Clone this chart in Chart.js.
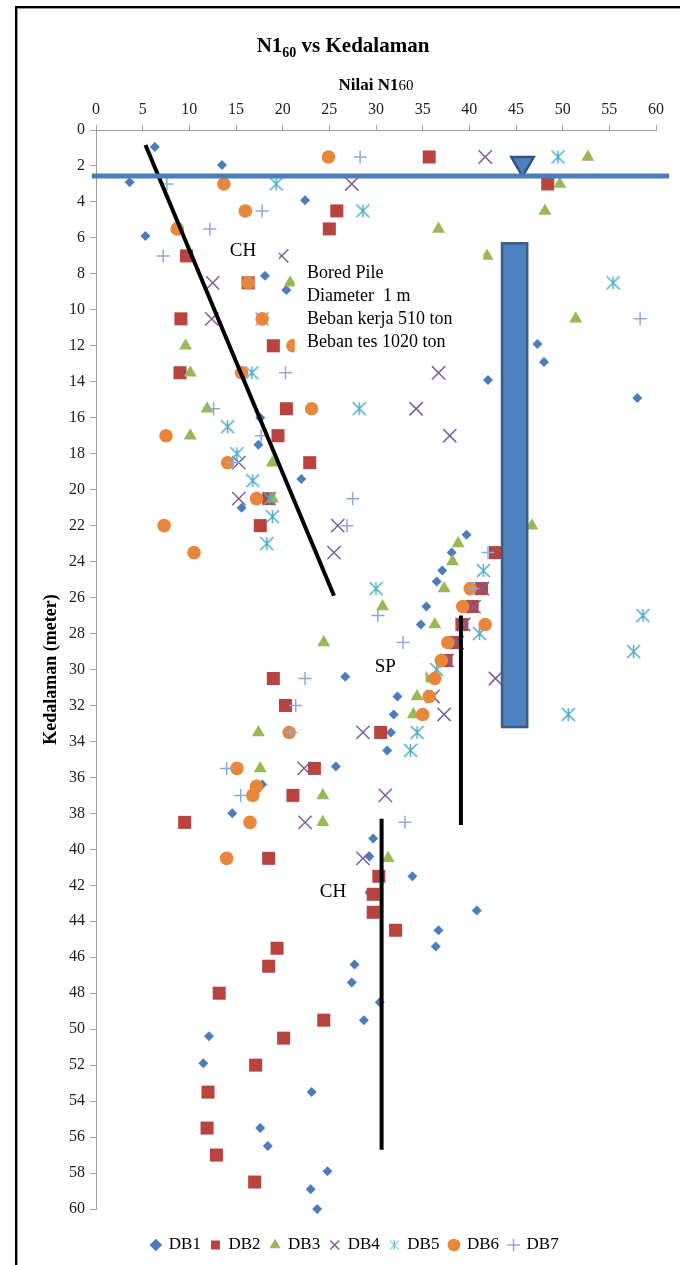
<!DOCTYPE html>
<html>
<head>
<meta charset="utf-8">
<title>N1 60 vs Kedalaman</title>
<script src="https://cdn.jsdelivr.net/npm/chart.js@4.4.1/dist/chart.umd.min.js"></script>
<style>
  body { margin: 0; background: #fff; }
  #wrap { position: relative; width: 680px; height: 1265px; overflow: hidden; }
  #frame { position: absolute; left: 15px; top: 6px; width: 700px; height: 1300px;
           border-left: 2px solid #000; border-top: 2px solid #000; box-shadow: inset 1px 1px 0 #9a9a9a; }
</style>
</head>
<body>
<div id="wrap">
  <canvas id="chart" width="680" height="1265"></canvas>
  <div id="frame"></div>
</div>
<script>
// [N1-60, depth (m)]
const db1 = [[6.3,0.95],[13.5,1.95],[3.6,2.9],[22.4,3.9],[5.3,5.9],[18.1,8.1],[20.4,8.9],[47.3,11.9],[48.0,12.9],
  [42.0,13.9],[58.0,14.9],[17.6,16.0],[17.4,17.5],[22.0,19.4],[15.6,21.0],[39.7,22.5],[38.1,23.5],[37.1,24.5],
  [36.5,25.1],[35.4,26.5],[34.8,27.5],[26.7,30.4],[32.3,31.5],[31.9,32.5],[31.6,33.5],[31.2,34.5],[25.7,35.4],
  [17.8,36.4],[14.6,38.0],[29.7,39.4],[29.3,40.4],[33.9,41.5],[29.3,42.4],[40.8,43.4],[36.7,44.5],[36.4,45.4],
  [27.7,46.4],[27.4,47.4],[30.4,48.5],[28.7,49.5],[12.1,50.4],[11.5,51.9],[23.1,53.5],[17.6,55.5],[18.4,56.5],
  [24.8,57.9],[23.0,58.9],[23.7,60.0]];
const db2 = [[35.7,1.5],[48.4,3.0],[25.8,4.5],[25.0,5.5],[9.7,7.0],[16.3,8.5],[9.1,10.5],[19.0,12.0],[9.0,13.5],
  [20.4,15.5],[19.5,17.0],[22.9,18.5],[18.5,20.5],[17.6,22.0],[42.8,23.5],[41.3,25.5],[40.3,26.5],[39.2,27.5],
  [38.3,28.5],[37.5,29.5],[19.0,30.5],[20.3,32.0],[30.5,33.5],[23.4,35.5],[21.1,37.0],[9.5,38.5],[18.5,40.5],
  [30.3,41.5],[29.7,42.5],[29.7,43.5],[32.1,44.5],[19.4,45.5],[18.5,46.5],[13.2,48.0],[24.4,49.5],[20.1,50.5],
  [17.1,52.0],[12.0,53.5],[11.9,55.5],[12.9,57.0],[17.0,58.5]];
const db3 = [[52.7,1.5],[49.7,3.0],[48.1,4.5],[36.7,5.5],[41.9,7.0],[20.8,8.5],[51.4,10.5],[9.6,12.0],[10.1,13.5],
  [11.9,15.5],[10.1,17.0],[18.9,18.5],[18.9,20.5],[46.7,22.0],[38.8,23.0],[38.2,24.0],[37.3,25.5],[30.7,26.5],
  [36.3,27.5],[24.4,28.5],[35.4,30.5],[34.4,31.5],[34.0,32.5],[17.4,33.5],[17.6,35.5],[24.3,37.0],[24.3,38.5],
  [31.3,40.5]];
const db4 = [[41.7,1.5],[27.4,3.0],[19.9,7.0],[12.5,8.5],[12.4,10.5],[36.7,13.5],[34.3,15.5],[37.9,17.0],
  [15.3,18.5],[15.3,20.5],[25.9,22.0],[25.5,23.5],[41.4,25.5],[40.5,26.5],[39.4,27.5],[38.7,28.5],[37.6,29.5],
  [42.8,30.5],[36.1,31.5],[37.3,32.5],[28.6,33.5],[22.3,35.5],[31.0,37.0],[22.4,38.5],[28.6,40.5]];
const db5 = [[49.5,1.5],[19.3,3.0],[28.6,4.5],[55.4,8.5],[17.8,10.5],[16.7,13.5],[28.2,15.5],[14.1,16.5],
  [15.1,18.0],[16.8,19.5],[18.6,20.5],[18.9,21.5],[18.3,23.0],[41.5,24.5],[30.0,25.5],[58.6,27.0],[41.1,28.0],
  [57.6,29.0],[36.5,30.0],[50.6,32.5],[34.4,33.5],[33.7,34.5]];
const db6 = [[24.9,1.5],[13.7,3.0],[16.0,4.5],[8.7,5.5],[16.3,8.5],[17.8,10.5],[21.1,12.0],[15.6,13.5],[23.1,15.5],
  [7.5,17.0],[14.1,18.5],[17.2,20.5],[7.3,22.0],[10.5,23.5],[40.1,25.5],[39.3,26.5],[41.7,27.5],[37.7,28.5],
  [37.0,29.5],[36.3,30.5],[35.7,31.5],[35.0,32.5],[20.7,33.5],[15.1,35.5],[17.2,36.5],[16.8,37.0],[16.5,38.5],
  [14.0,40.5]];
const db7 = [[28.3,1.5],[7.6,3.0],[17.8,4.5],[12.2,5.5],[7.2,7.0],[58.3,10.5],[20.3,13.5],[12.6,15.5],[17.7,17.0],
  [14.7,18.5],[27.5,20.5],[26.9,22.0],[42.0,23.5],[40.4,25.5],[30.2,27.0],[32.9,28.5],[22.4,30.5],[21.4,32.0],
  [20.9,33.5],[14.0,35.5],[15.5,37.0],[33.1,38.5]];

const seriesNames = ['DB1', 'DB2', 'DB3', 'DB4', 'DB5', 'DB6', 'DB7'];
const xTicks = [0, 5, 10, 15, 20, 25, 30, 35, 40, 45, 50, 55, 60];
const depthTicks = [0, 60, 2];   // min, max, step

// annotations, in chart units
const waterLine = [[-0.45, 2.56], [61.4, 2.56]];
const waterMark = [[45.7, 1.86]];
const chLineTop = [[5.3, 0.83], [25.5, 25.9]];
const spLine = [[39.1, 27.0], [39.1, 38.65]];
const chLineLow = [[30.6, 38.3], [30.6, 56.7]];
const pileN = [43.5, 46.2];
const pileDepth = [6.3, 33.2];
const labelCH = ['CH', 15.75, 6.73, [13.5, 19.6, 5.6, 7.85]];
const labelSP = ['SP', 31.0, 29.87, [28.1, 35.3, 29.0, 30.8]];
const labelCH2 = ['CH', 25.4, 42.4, [23.3, 27.5, 41.5, 43.3]];
const pileText = ['Bored Pile', 'Diameter  1 m', 'Beban kerja 510 ton', 'Beban tes 1020 ton'];
const pileTextAt = [22.6, 7.95, 1.28];          // left N, first line depth, line step
const pileTextBox = [21.3, 41.5, 6.55, 12.7];

const serif = "'Liberation Serif', 'Times New Roman', serif";
const colors = ['#4a7ebb', '#b8433f', '#98b954', '#7d5fa0', '#4bacc6', '#e6873c', '#8ea9db'];

function asterisk(h, color, lw) {
  const c = document.createElement('canvas');
  c.width = c.height = 2 * h + 2;
  const g = c.getContext('2d');
  const m = h + 1;
  g.strokeStyle = color;
  g.lineWidth = lw;
  g.beginPath();
  g.moveTo(m, m - h); g.lineTo(m, m + h);
  g.moveTo(m - h, m - h); g.lineTo(m + h, m + h);
  g.moveTo(m + h, m - h); g.lineTo(m - h, m + h);
  g.stroke();
  return c;
}
const starBig = asterisk(6.5, colors[4], 1.5);
const starSmall = asterisk(4.5, colors[4], 1);

const styles = ['rectRot', 'rect', 'triangle', 'crossRot', starBig, 'circle', 'cross'];
const radii = [5, 9.2, 7.5, 9.4, 7, 6.8, 6.5];
const toXY = pts => pts.map(p => ({ x: p[0], y: p[1] }));

const pointSets = [db1, db2, db3, db4, db5, db6, db7].map((pts, i) => ({
  label: seriesNames[i],
  data: toXY(pts),
  pointStyle: styles[i],
  pointRadius: radii[i],
  pointHoverRadius: radii[i],
  backgroundColor: colors[i],
  borderColor: colors[i],
  borderWidth: (i === 3 || i === 4 || i === 6) ? 1.5 : 0,
  clip: false,
  order: 10 - i
}));

function lineSet(pts, color, width) {
  return { data: toXY(pts), showLine: true, pointRadius: 0, borderColor: color,
           borderWidth: width, borderCapStyle: 'butt', clip: false, order: 0 };
}

const lineSets = [
  lineSet(waterLine, '#4a7ebb', 5),
  lineSet(chLineTop, '#000', 4),
  lineSet(spLine, '#000', 4),
  lineSet(chLineLow, '#000', 4),
  { data: toXY(waterMark), pointStyle: 'triangle', rotation: 180, pointRadius: 13, pointHoverRadius: 13,
    backgroundColor: '#4f81bd', borderColor: '#2f5584', borderWidth: 2.5, clip: false, order: 0 }
];

// draws text pieces side by side, centred on cx
function richText(ctx, parts, cx, y) {
  let w = 0;
  parts.forEach(p => { ctx.font = p.font; w += ctx.measureText(p.text).width; });
  let x = cx - w / 2;
  ctx.textAlign = 'left';
  ctx.textBaseline = 'alphabetic';
  parts.forEach(p => {
    ctx.font = p.font;
    ctx.fillText(p.text, x, y + (p.dy || 0));
    x += ctx.measureText(p.text).width;
  });
}

const annotations = {
  id: 'annotations',
  afterDatasetsDraw(chart) {
    const { ctx, scales: { x, y } } = chart;
    ctx.save();
    // bored pile
    const px0 = x.getPixelForValue(pileN[0]), px1 = x.getPixelForValue(pileN[1]);
    const py0 = y.getPixelForValue(pileDepth[0]), py1 = y.getPixelForValue(pileDepth[1]);
    ctx.fillStyle = '#4f81bd';
    ctx.strokeStyle = '#385d8a';
    ctx.lineWidth = 2.5;
    ctx.fillRect(px0, py0, px1 - px0, py1 - py0);
    ctx.strokeRect(px0, py0, px1 - px0, py1 - py0);

    // labels with white boxes
    const box = b => {
      const l = x.getPixelForValue(b[0]), r = x.getPixelForValue(b[1]);
      const t = y.getPixelForValue(b[2]), btm = y.getPixelForValue(b[3]);
      ctx.fillStyle = '#fff';
      ctx.fillRect(l, t, r - l, btm - t);
    };
    [labelCH, labelSP, labelCH2].forEach(lb => {
      box(lb[3]);
      ctx.fillStyle = '#000';
      ctx.font = '19px ' + serif;
      ctx.textAlign = 'center';
      ctx.textBaseline = 'middle';
      ctx.fillText(lb[0], x.getPixelForValue(lb[1]), y.getPixelForValue(lb[2]));
    });
    box(pileTextBox);
    ctx.fillStyle = '#000';
    ctx.font = '18px ' + serif;
    ctx.textAlign = 'left';
    ctx.textBaseline = 'middle';
    pileText.forEach((t, i) => {
      ctx.fillText(t, x.getPixelForValue(pileTextAt[0]), y.getPixelForValue(pileTextAt[1] + i * pileTextAt[2]));
    });
    ctx.restore();
  },
  afterDraw(chart) {
    const { ctx, chartArea } = chart;
    ctx.save();
    ctx.fillStyle = '#000';
    richText(ctx, [
      { text: 'N1', font: 'bold 21px ' + serif },
      { text: '60', font: 'bold 14px ' + serif, dy: 5 },
      { text: ' vs Kedalaman', font: 'bold 21px ' + serif }
    ], 343, 52);
    richText(ctx, [
      { text: 'Nilai N1', font: 'bold 17px ' + serif },
      { text: '60', font: '15px ' + serif }
    ], (chartArea.left + chartArea.right) / 2, 90);
    ctx.translate(51, (chartArea.top + chartArea.bottom) / 2);
    ctx.rotate(-Math.PI / 2);
    ctx.font = 'bold 18px ' + serif;
    ctx.textAlign = 'center';
    ctx.textBaseline = 'middle';
    ctx.fillText('Kedalaman (meter)', 0, 0);
    ctx.restore();
  }
};

const axisGray = '#a0a0a0';

new Chart(document.getElementById('chart'), {
  type: 'scatter',
  data: { datasets: pointSets.concat(lineSets) },
  plugins: [annotations],
  options: {
    responsive: false,
    animation: false,
    events: [],
    layout: { padding: { left: 54, right: 24, top: 0, bottom: 1.5 } },
    scales: {
      x: {
        type: 'linear',
        position: 'top',
        min: xTicks[0],
        max: xTicks[xTicks.length - 1],
        afterBuildTicks: s => { s.ticks = xTicks.map(v => ({ value: v })); },
        afterFit: s => { s.height = 130; },
        grid: { drawOnChartArea: false, tickLength: 5, color: axisGray },
        border: { color: axisGray },
        ticks: { font: { family: serif, size: 16 }, color: '#222', padding: 6, maxRotation: 0, autoSkip: false }
      },
      y: {
        type: 'linear',
        reverse: true,
        min: depthTicks[0],
        max: depthTicks[1],
        afterFit: s => { s.width = 42; },
        grid: { drawOnChartArea: false, tickLength: 6, color: axisGray },
        border: { color: axisGray },
        ticks: { stepSize: depthTicks[2], font: { family: serif, size: 16 }, color: '#222', padding: 5, autoSkip: false }
      }
    },
    plugins: {
      title: { display: false },
      tooltip: { enabled: false },
      legend: {
        position: 'bottom',
        title: { display: true, text: '', font: { size: 1 }, padding: { top: 16.3, bottom: 0 } },
        labels: {
          usePointStyle: true,
          boxWidth: 9,
          boxHeight: 9,
          padding: 10,
          color: '#000',
          font: { family: serif, size: 17 },
          generateLabels(chart) {
            const items = Chart.defaults.plugins.legend.labels.generateLabels(chart);
            return items
              .filter(it => it.datasetIndex < 7)
              .sort((a, b) => a.datasetIndex - b.datasetIndex)
              .map(it => {
                if (it.datasetIndex === 4) it.pointStyle = starSmall;
                it.fontColor = '#000';
                return it;
              });
          }
        }
      }
    }
  }
});
</script>
</body>
</html>
